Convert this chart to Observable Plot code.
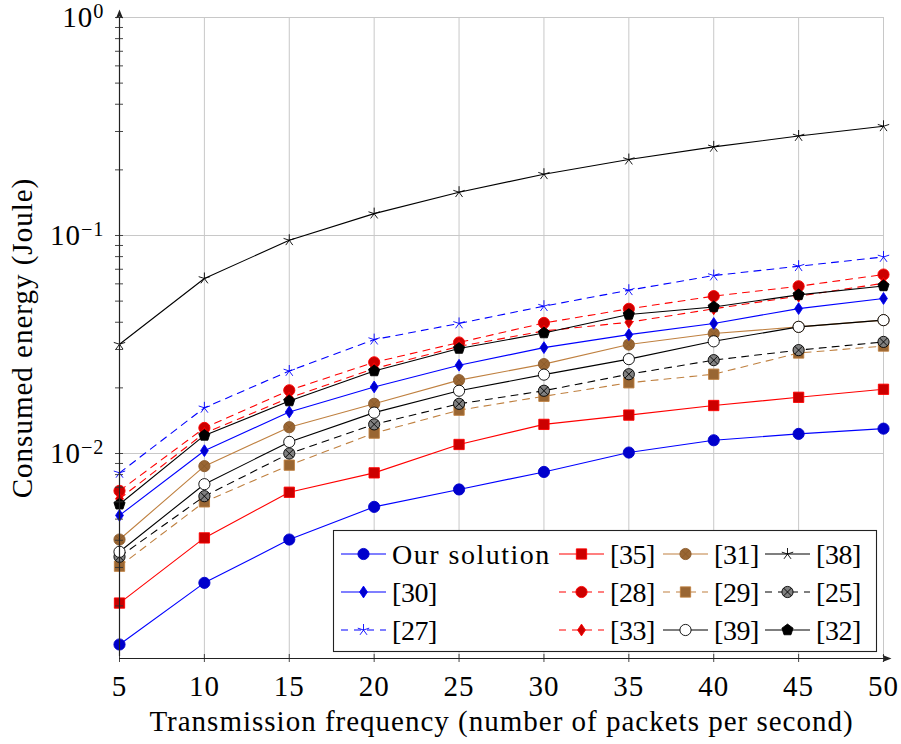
<!DOCTYPE html>
<html>
<head>
<meta charset="utf-8">
<script src="https://cdn.jsdelivr.net/npm/d3@7"></script>
<script src="https://cdn.jsdelivr.net/npm/@observablehq/plot@0.6"></script>
<style>
  html, body { margin: 0; padding: 0; background: #fff; }
  #chart svg { display: block; }
  #chart svg text, #chart svg tspan { font-family: "Liberation Serif", "DejaVu Serif", serif !important; }
  #chart svg text { letter-spacing: 1px; }
  #chart svg g.legend text { letter-spacing: -0.4px; }
  #chart svg g.legend text.wide { letter-spacing: 1.5px; }
</style>
</head>
<body>
<div id="chart"></div>
<script>
// Transmission frequency (packets per second)
const freq = [5, 10, 15, 20, 25, 30, 35, 40, 45, 50];

// Consumed energy (Joule) per approach
const ourSolution = [0.00133, 0.00255, 0.00403, 0.00569, 0.00684, 0.00823, 0.0101, 0.0115, 0.0123, 0.0130];
const ref35 = [0.00206, 0.0041, 0.00664, 0.00815, 0.0110, 0.0136, 0.0150, 0.0166, 0.0181, 0.0197];
const ref31 = [0.00403, 0.00875, 0.0132, 0.0169, 0.0217, 0.0257, 0.0316, 0.0355, 0.0381, 0.0409];
const ref38 = [0.0317, 0.0635, 0.0951, 0.126, 0.158, 0.191, 0.223, 0.255, 0.286, 0.317];
const ref30 = [0.00520, 0.0103, 0.0155, 0.0202, 0.0254, 0.0306, 0.0351, 0.0395, 0.0462, 0.0514];
const ref28 = [0.00674, 0.0131, 0.0195, 0.0262, 0.0323, 0.0397, 0.0461, 0.0527, 0.0585, 0.0662];
const ref29 = [0.00304, 0.0060, 0.00884, 0.0124, 0.0158, 0.0183, 0.0211, 0.0231, 0.0289, 0.0311];
const ref25 = [0.00336, 0.00637, 0.0100, 0.0136, 0.0169, 0.0194, 0.0231, 0.0268, 0.0298, 0.0325];
const ref27 = [0.00815, 0.0162, 0.0239, 0.0333, 0.0395, 0.0474, 0.0561, 0.0655, 0.0723, 0.0797];
const ref33 = [0.0062, 0.0124, 0.0180, 0.0245, 0.0310, 0.0365, 0.0400, 0.0461, 0.0527, 0.0604];
const ref39 = [0.00354, 0.00723, 0.0113, 0.0154, 0.0194, 0.0230, 0.0271, 0.0327, 0.0381, 0.0409];
const ref32 = [0.00585, 0.0121, 0.0174, 0.0239, 0.0303, 0.0357, 0.0434, 0.0470, 0.0534, 0.0587];

// Legend order (row by row, four columns)
const seriesNames = ["Our solution", "[35]", "[31]", "[38]", "[30]", "[28]", "[29]", "[25]", "[27]", "[33]", "[39]", "[32]"];
const seriesValues = [ourSolution, ref35, ref31, ref38, ref30, ref28, ref29, ref25, ref27, ref33, ref39, ref32];

// Axis ticks
const xTicks = [5, 10, 15, 20, 25, 30, 35, 40, 45, 50];
const yMajor = [1e-2, 1e-1, 1];
const yMinor = [2e-3, 3e-3, 4e-3, 5e-3, 6e-3, 7e-3, 8e-3, 9e-3,
                2e-2, 3e-2, 4e-2, 5e-2, 6e-2, 7e-2, 8e-2, 9e-2,
                2e-1, 3e-1, 4e-1, 5e-1, 6e-1, 7e-1, 8e-1, 9e-1];
const yMin = 1.147e-3, yMax = 1;

// Marker shapes (drawn into a d3 path context)
const shape = f => ({draw(ctx, size) { f(ctx, Math.sqrt(size / Math.PI)); }});
const circle = shape((c, r) => { c.moveTo(r, 0); c.arc(0, 0, r, 0, 2 * Math.PI); c.closePath(); });
const square = shape((c, r) => { const s = r * 0.92; c.rect(-s, -s, 2 * s, 2 * s); });
const diamond = shape((c, r) => { const h = r * 1.05, w = r * 0.7; c.moveTo(0, -h); c.lineTo(w, 0); c.lineTo(0, h); c.lineTo(-w, 0); c.closePath(); });
const star = shape((c, r) => { for (let k = 0; k < 5; k++) { const a = 2 * Math.PI * k / 5; c.moveTo(0, 0); c.lineTo(r * Math.sin(a), -r * Math.cos(a)); } });
const pentagon = shape((c, r) => { const R = r * 1.05; for (let k = 0; k < 5; k++) { const a = -Math.PI / 2 + 2 * Math.PI * k / 5; const x = R * Math.cos(a), y = R * Math.sin(a); k ? c.lineTo(x, y) : c.moveTo(x, y); } c.closePath(); });
const otimes = shape((c, r) => { c.moveTo(r, 0); c.arc(0, 0, r, 0, 2 * Math.PI); c.closePath(); const d = r * 0.7071; c.moveTo(-d, -d); c.lineTo(d, d); c.moveTo(d, -d); c.lineTo(-d, d); });
// filled arrowhead pointing up (rotated per axis)
const arrowHead = shape((c, r) => { c.moveTo(0, -r); c.lineTo(r * 0.6, r * 0.5); c.lineTo(0, r * 0.15); c.lineTo(-r * 0.6, r * 0.5); c.closePath(); });

const BLUE = "#0000ff", BLUE_F = "#0000cc";
const RED = "#ff0000", RED_F = "#cc0000";
const BROWN = "#bf8040", BROWN_F = "#996633";
const BLACK = "#000000";
const DASH = "7,6";

const styles = {
  "Our solution": {stroke: BLUE, dash: null, symbol: circle, r: 5.6, fill: BLUE_F, mstroke: BLUE_F},
  "[35]": {stroke: RED, dash: null, symbol: square, r: 5.6, fill: RED_F, mstroke: RED},
  "[31]": {stroke: BROWN, dash: null, symbol: otimes, r: 5.6, fill: BROWN_F, mstroke: "#8a5a2b"},
  "[38]": {stroke: BLACK, dash: null, symbol: star, r: 6, fill: "none", mstroke: BLACK},
  "[30]": {stroke: BLUE, dash: null, symbol: diamond, r: 5.6, fill: BLUE_F, mstroke: BLUE},
  "[28]": {stroke: RED, dash: DASH, symbol: circle, r: 5.6, fill: RED_F, mstroke: RED},
  "[29]": {stroke: BROWN, dash: DASH, symbol: square, r: 5.6, fill: BROWN_F, mstroke: BROWN},
  "[25]": {stroke: BLACK, dash: DASH, symbol: otimes, r: 5.6, fill: "#808080", mstroke: BLACK},
  "[27]": {stroke: BLUE, dash: DASH, symbol: star, r: 6, fill: "none", mstroke: BLUE},
  "[33]": {stroke: RED, dash: DASH, symbol: diamond, r: 5.6, fill: RED_F, mstroke: RED},
  "[39]": {stroke: BLACK, dash: null, symbol: circle, r: 5.6, fill: "#ffffff", mstroke: BLACK},
  "[32]": {stroke: BLACK, dash: null, symbol: pentagon, r: 5.6, fill: BLACK, mstroke: BLACK}
};

const rows = seriesNames.map((name, i) => freq.map((f, j) => ({series: name, freq: f, energy: seriesValues[i][j]})));

const FONT = "Liberation Serif, DejaVu Serif, serif";
const FS = 29;

const seriesMarks = rows.flatMap(data => {
  const s = styles[data[0].series];
  return [
    Plot.line(data, {x: "freq", y: "energy", stroke: s.stroke, strokeWidth: 1.1, strokeDasharray: s.dash ?? undefined}),
    Plot.dot(data, {x: "freq", y: "energy", symbol: s.symbol, r: s.r, fill: s.fill, stroke: s.mstroke, strokeWidth: 0.9})
  ];
});

const chart = Plot.plot({
  width: 901,
  height: 744,
  marginLeft: 119,
  marginRight: 18,
  marginTop: 17,
  marginBottom: 86,
  style: {fontFamily: FONT, background: "#fff"},
  x: {domain: [5, 50]},
  y: {type: "log", domain: [yMin, yMax]},
  marks: [
    Plot.gridX(xTicks, {stroke: "#c8c8c8", strokeOpacity: 1, strokeWidth: 1}),
    Plot.gridY(yMajor, {stroke: "#c8c8c8", strokeOpacity: 1, strokeWidth: 1}),
    ...seriesMarks,
    // axis tick marks (centred on the axis lines)
    Plot.ruleX(xTicks, {y1: yMin, y2: yMin, insetTop: -4, insetBottom: -4, stroke: "#333", strokeWidth: 0.9}),
    Plot.ruleY([...yMajor, ...yMinor], {x1: 5, x2: 5, insetLeft: -4, insetRight: -4, stroke: "#333", strokeWidth: 0.9}),
    // axis lines, extended a little past the frame, with filled arrowheads
    Plot.ruleY([yMin], {x1: 5, x2: 50, insetRight: -2, stroke: "#222", strokeWidth: 1.2}),
    Plot.ruleX([5], {y1: yMin, y2: yMax, insetTop: -2, stroke: "#222", strokeWidth: 1.2}),
    Plot.dot([yMin], {x: 50, y: d => d, dx: 2, symbol: arrowHead, r: 6, rotate: 90, fill: "#222", stroke: "none"}),
    Plot.dot([yMax], {x: 5, y: d => d, dy: -2, symbol: arrowHead, r: 6, fill: "#222", stroke: "none"}),
    Plot.axisX(xTicks, {tickSize: 0, tickPadding: 17, fontSize: FS, tickFormat: d => String(d),
      label: "Transmission frequency (number of packets per second)", labelAnchor: "center", labelArrow: "none", labelOffset: 72}),
    Plot.axisY(yMajor, {tickSize: 0, tickPadding: 15, fontSize: FS, tickFormat: d => "10^" + Math.round(Math.log10(d)),
      label: "Consumed energy (Joule)", labelAnchor: "center", labelArrow: "none", labelOffset: 108})
  ]
});

document.getElementById("chart").appendChild(chart);

const svg = d3.select(chart);

// Exponent labels: 10 with a raised exponent
svg.selectAll('g[aria-label="y-axis tick label"] text').each(function () {
  const t = d3.select(this);
  const exp = t.text().split("^")[1];
  t.text("10");
  t.append("tspan").attr("dy", "-0.42em").attr("font-size", "0.7em").text(exp.replace("-", "\u2212"));
});

// Legend box inside the plot area
const legend = svg.append("g").attr("class", "legend").attr("font-family", FONT).attr("font-size", 28).attr("text-anchor", "start");
legend.append("rect").attr("x", 333.5).attr("y", 530.5).attr("width", 543).attr("height", 121)
  .attr("fill", "#fff").attr("stroke", "#222").attr("stroke-width", 1.1);
const colLine = [341, 559, 663, 765];
const rowY = [554, 592, 630];
seriesNames.forEach((name, i) => {
  const s = styles[name];
  const x0 = colLine[i % 4], y0 = rowY[Math.floor(i / 4)];
  const g = legend.append("g");
  g.append("line").attr("x1", x0).attr("x2", x0 + 45).attr("y1", y0).attr("y2", y0)
    .attr("stroke", s.stroke).attr("stroke-width", 1.1).attr("stroke-dasharray", s.dash);
  g.append("path").attr("transform", `translate(${x0 + 22.5},${y0})`)
    .attr("d", d3.symbol(s.symbol, s.r * s.r * Math.PI)())
    .attr("fill", s.fill).attr("stroke", s.mstroke).attr("stroke-width", 0.9);
  g.append("text").attr("class", name.startsWith("[") ? null : "wide")
    .attr("x", x0 + 51).attr("y", y0).attr("dy", "0.34em").attr("fill", "#000").text(name);
});
</script>
</body>
</html>
